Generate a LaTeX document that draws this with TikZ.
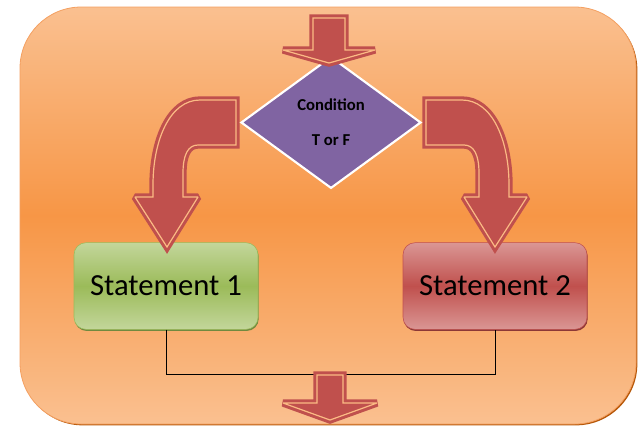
\documentclass[tikz,border=0pt]{standalone}
\usepackage{fontspec}
\setmainfont{Carlito}
\usetikzlibrary{shapes.geometric,shadows}
\definecolor{BackLight}{HTML}{FAC090}
\definecolor{BackMid}{HTML}{F79646}
\definecolor{BackLine}{HTML}{F4A061}
\definecolor{BackEdge}{HTML}{B65708}
\definecolor{ArrowRed}{HTML}{C0504D}
\definecolor{ArrowLine}{HTML}{FBBA84}
\definecolor{CondPurple}{HTML}{8064A2}
\definecolor{TrueLight}{HTML}{C3D69B}
\definecolor{TrueMid}{HTML}{9BBB59}
\definecolor{TrueDark}{HTML}{71893F}
\definecolor{FalseLight}{HTML}{DA9694}
\definecolor{FalseMid}{HTML}{C0504D}
\definecolor{FalseDark}{HTML}{8C3836}
\begin{document}
\begin{tikzpicture}[x=0.75pt, y=-0.75pt,
  flow/.style = {fill=ArrowRed, draw=ArrowRed, double=ArrowLine,
    double distance=0.9pt, line width=2.3pt, miter limit=2},
  statement/.style = {shape=rectangle, rounded corners=9pt,
    minimum width=138pt, minimum height=65pt,
    font=\fontsize{23}{27}\selectfont},
  decision/.style = {shape=diamond, draw=white, line width=1.6pt,
    fill=CondPurple, minimum width=135pt, minimum height=85pt,
    align=center, font=\fontsize{12.5}{15}\selectfont\bfseries}]
  \useasboundingbox (0,0) rectangle (641,433);
  \path[draw=BackLine, line width=0.6pt, rounded corners=46pt,
    top color=BackLight, bottom color=BackLight, middle color=BackMid,
    drop shadow={shadow xshift=1pt, shadow yshift=-1pt, fill=BackEdge, opacity=1}]
    (20,7) rectangle (636,424);
  \node[statement, draw=TrueMid, top color=TrueLight, bottom color=TrueLight,
    middle color=TrueMid,
    drop shadow={shadow xshift=0.5pt, shadow yshift=-1.2pt, fill=TrueDark, opacity=1}]
    (true) at (166,286) {Statement 1};
  \node[statement, draw=FalseMid, top color=FalseLight, bottom color=FalseLight,
    middle color=FalseMid,
    drop shadow={shadow xshift=0.5pt, shadow yshift=-1.2pt, fill=FalseDark, opacity=1}]
    (false) at (495,286) {Statement 2};
  \coordinate (join) at (331,374);
  \draw[line width=0.6pt] (true.south) |- (join) -| (false.south);
  \draw[flow] (236,100) -- (200,100) .. controls (170,100) and (153,140) .. (153,185)
    -- (153,197) -- (135,197) -- (167,247) -- (198,197) -- (183,197) -- (183,173)
    .. controls (183,155) and (188,145) .. (198,145) -- (236,145) -- cycle;
  \draw[flow] (426,100) -- (462,100) .. controls (492,100) and (509,140) .. (509,185)
    -- (509,197) -- (527,197) -- (495,247) -- (464,197) -- (479,197) -- (479,173)
    .. controls (479,155) and (474,145) .. (464,145) -- (426,145) -- cycle;
  \node[decision] (cond) at (331,122.5) {Condition\\[11pt]T or F};
  \draw[flow] (313,18) -- (345,18) -- (345,50) -- (375,50) -- (329,63)
    -- (283,50) -- (313,50) -- cycle;
  \draw[flow] (317,375) -- (343,375) -- (343,403) -- (377,403) -- (330,420)
    -- (283,403) -- (317,403) -- cycle;
\end{tikzpicture}
\end{document}
